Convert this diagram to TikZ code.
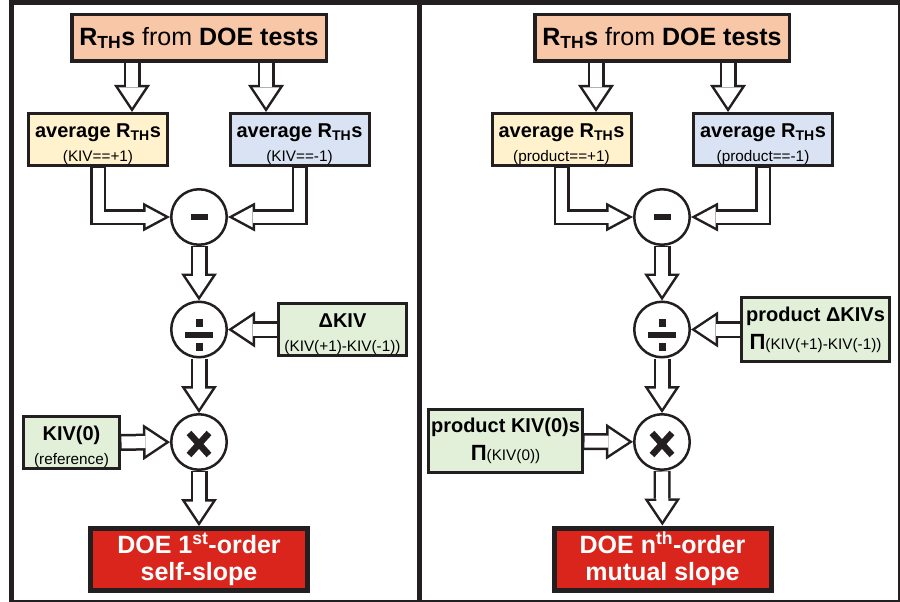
\documentclass[tikz,border=0pt]{standalone}
\usepackage{fontspec}
\setmainfont{Liberation Sans}
\usetikzlibrary{arrows.meta}

\definecolor{ink}{HTML}{231F20}
\definecolor{peach}{HTML}{F7C7A8}
\definecolor{cream}{HTML}{FFF2CC}
\definecolor{sky}{HTML}{DAE3F3}
\definecolor{mint}{HTML}{E2F0D9}
\definecolor{signal}{HTML}{DA251D}

\newcommand{\bigfont}{\fontsize{25}{27}\selectfont\bfseries}
\newcommand{\midfont}{\fontsize{20}{24}\selectfont\bfseries}
\newcommand{\tinyfont}{\fontsize{15.3}{16}\selectfont\mdseries}
\newcommand{\RTH}{R\textsubscript{TH}}
\newcommand{\prodsym}{{\fontsize{22}{22}\selectfont Π}}
\newcommand{\topstrut}{\rule{0pt}{23pt}}

\tikzset{
  fatout/.style={draw=ink,line width=17pt,-{Triangle[width=36pt,length=27pt,line width=0pt]}},
  fatin/.style={draw=white,line width=12pt,shorten <=0.5pt,shorten >=4.5pt,-{Triangle[width=26.6pt,length=20pt,line width=0pt]}},
  bendout/.style={draw=ink,line width=16pt,line join=miter,-{Triangle[width=29pt,length=27pt,line width=0pt]}},
  bendin/.style={draw=white,line width=11pt,line join=miter,shorten <=0.5pt,shorten >=5.3pt,-{Triangle[width=20.6pt,length=19.2pt,line width=0pt]}}
}
\newcommand{\fatarrow}[1]{\draw[fatout] #1; \draw[fatin] #1;}
\newcommand{\bendarrow}[1]{\draw[bendout] #1; \draw[bendin] #1;}

\begin{document}
\begin{tikzpicture}
  [x=1pt,y=-1pt,every node/.style={draw=ink,line width=3pt,align=center,inner sep=0pt}]
 \tikzset{srcbox/.style={fill=peach,line width=3.5pt,minimum width=254.5pt,minimum height=46.5pt,font=\bigfont},
   avgbox/.style={minimum width=139pt,minimum height=52pt,font=\midfont},
   kivbox/.style={fill=mint,minimum height=52pt,font=\midfont},
   outbox/.style={fill=signal,line width=5pt,text=white,minimum width=217pt,minimum height=62pt,font=\bigfont},
   op/.style={circle,fill=white,line width=2.5pt,minimum size=55.5pt}}

 \useasboundingbox (0,0) rectangle (900,602);

 % two panels
 \draw[ink,line width=5pt] (11.5,2.5) rectangle (419.5,602.5);
 \draw[ink,line width=5pt] (419.5,2.5) rectangle (900.5,602.5);

 % left panel: self-slope
 \node[srcbox] (src1) at (199,38) {\RTH s {\mdseries from} DOE tests};
 \node[avgbox,fill=cream] (pos1) at (98,139.5) {\topstrut average \RTH s\\{\tinyfont (KIV==+1)}};
 \node[avgbox,fill=sky] (neg1) at (299.5,139.5) {\topstrut average \RTH s\\{\tinyfont (KIV==-1)}};
 \node[op] (sub1) at (199,217) {};
 \node[op] (div1) at (199,329.5) {};
 \node[op] (mul1) at (199,442) {};
 \node[kivbox,minimum width=128pt] (dkiv1) at (342.5,329.5) {\topstrut ΔKIV\\{\tinyfont (KIV(+1)-KIV(-1))}};
 \node[kivbox,minimum width=96pt] (kiv1) at (71.5,442.5) {\topstrut KIV(0)\\{\tinyfont (reference)}};
 \node[outbox] (res1) at (199,559.5) {DOE 1\textsuperscript{st}-order\\self-slope};

 % right panel: mutual slope
 \node[srcbox] (src2) at (662,38) {\RTH s {\mdseries from} DOE tests};
 \node[avgbox,fill=cream] (pos2) at (561.5,139.5) {\topstrut average \RTH s\\{\tinyfont (product==+1)}};
 \node[avgbox,fill=sky] (neg2) at (763,139.5) {\topstrut average \RTH s\\{\tinyfont (product==-1)}};
 \node[op] (sub2) at (662,217) {};
 \node[op] (div2) at (662,329.5) {};
 \node[op] (mul2) at (662,442) {};
 \node[kivbox,minimum width=148pt,minimum height=64pt] (dkiv2) at (815.5,329.5) {product ΔKIVs\\[4pt]\prodsym{\tinyfont (KIV(+1)-KIV(-1))}};
 \node[kivbox,minimum width=154pt,minimum height=63pt] (kiv2) at (505.5,441) {product KIV(0)s\\[4pt]\prodsym{\tinyfont (KIV(0))}};
 \node[outbox] (res2) at (662.5,559) {DOE n\textsuperscript{th}-order\\mutual slope};

 % operator signs
 \foreach \p in {1,2} {
   \fill[ink] ([shift={(-8.5,-3)}]sub\p.center) rectangle ++(17,6);
   \fill[ink] ([shift={(-14,2)}]div\p.center) rectangle ++(28,6);
   \fill[ink] ([shift={(-3.5,-10.5)}]div\p.center) rectangle ++(7,8);
   \fill[ink] ([shift={(-3.5,13.5)}]div\p.center) rectangle ++(7,8);
   \draw[ink,line width=6.5pt] ([shift={(-10,-9)}]mul\p.center) -- ([shift={(10,13)}]mul\p.center);
   \draw[ink,line width=6.5pt] ([shift={(10,-9)}]mul\p.center) -- ([shift={(-10,13)}]mul\p.center);
 }

 % hollow arrows
 \foreach \from/\to in {sub1/div1,div1/mul1,mul1/res1,dkiv1/div1,kiv1/mul1,
                         sub2/div2,div2/mul2,mul2/res2,dkiv2/div2,kiv2/mul2}
   {\fatarrow{(\from) -- (\to)}}
 \fatarrow{([xshift=-67pt]src1.south) -- ([xshift=-67pt]src1.south |- pos1.north)}
 \fatarrow{([xshift=67pt]src1.south) -- ([xshift=67pt]src1.south |- neg1.north)}
 \fatarrow{([xshift=-66pt]src2.south) -- ([xshift=-66pt]src2.south |- pos2.north)}
 \fatarrow{([xshift=66pt]src2.south) -- ([xshift=66pt]src2.south |- neg2.north)}
 \foreach \src/\op in {pos1/sub1,neg1/sub1,pos2/sub2,neg2/sub2}
   {\bendarrow{(\src.south) |- (\op)}}

\end{tikzpicture}
\end{document}
